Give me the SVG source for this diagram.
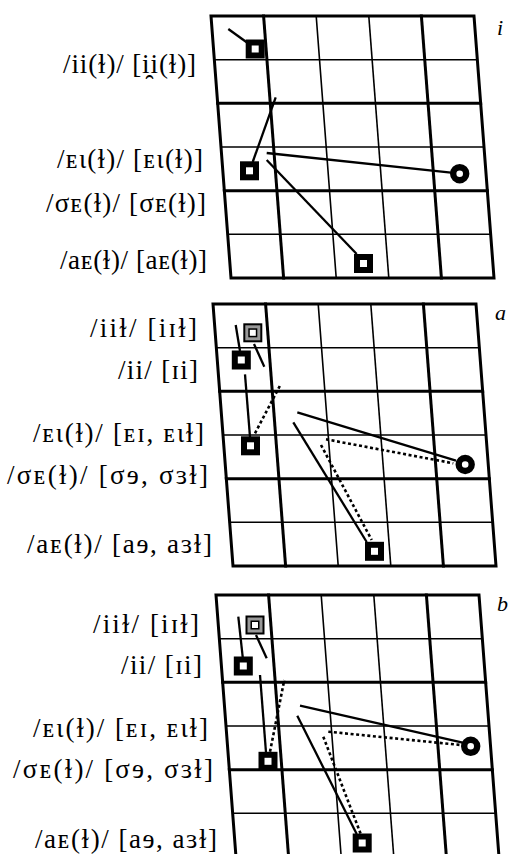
<svg xmlns="http://www.w3.org/2000/svg" xmlns:xlink="http://www.w3.org/1999/xlink" width="509" height="854" viewBox="0 0 509 854">
<style>
.g line{stroke:#000;stroke-linecap:square}
.bd{fill:none;stroke:#000;stroke-width:3}
.tk{stroke-width:3}
.tn{stroke-width:1.6}
.c{stroke:#000;stroke-width:2.3;fill:none}
.d{stroke:#000;stroke-width:2.6;fill:none;stroke-dasharray:3 2.6}
.lb{font-family:"Liberation Serif","DejaVu Serif",serif;font-size:27px;fill:#000;text-anchor:end}
.pl{font-family:"Liberation Serif","DejaVu Serif",serif;font-size:22px;font-style:italic;fill:#000}
</style>
<defs>
<g id="grid" class="g">
<line class="tn" x1="0" y1="43.7" x2="263" y2="43.7"/>
<line class="tk" x1="0" y1="87.3" x2="263" y2="87.3"/>
<line class="tn" x1="0" y1="131" x2="263" y2="131"/>
<line class="tk" x1="0" y1="174.7" x2="263" y2="174.7"/>
<line class="tn" x1="0" y1="218.3" x2="263" y2="218.3"/>
<line class="tk" x1="52.6" y1="0" x2="52.6" y2="262"/>
<line class="tn" x1="105.2" y1="0" x2="105.2" y2="262"/>
<line class="tn" x1="157.8" y1="0" x2="157.8" y2="262"/>
<line class="tk" x1="210.4" y1="0" x2="210.4" y2="262"/>
<rect class="bd" x="0" y="0" width="263" height="262"/>
</g>
<g id="sq"><rect x="-9.5" y="-9.5" width="19" height="19" fill="#000"/><rect x="-3.5" y="-3.5" width="7" height="7" fill="#fff"/></g>
<g id="gsq"><rect x="-9.5" y="-9.5" width="19" height="19" fill="#000"/><rect x="-7.5" y="-7.5" width="15" height="15" fill="#999"/><rect x="-4.5" y="-4.5" width="9" height="9" fill="#000"/><rect x="-3" y="-3" width="6" height="6" fill="#fff"/></g>
<g id="circ"><circle r="6.5" fill="#fff" stroke="#000" stroke-width="6.4"/></g>
</defs>

<g id="grid-i"><use xlink:href="#grid" transform="translate(211,16) skewX(4.3656)"/></g>
<g id="grid-a"><use xlink:href="#grid" transform="translate(213,304) skewX(4.3656)"/></g>
<g id="grid-b"><use xlink:href="#grid" transform="translate(216,595) skewX(4.3656)"/></g>

<g id="connectors">
<line class="c" x1="228.3" y1="29" x2="247" y2="42.5"/>
<line class="c" x1="275.7" y1="97.3" x2="252.7" y2="162"/>
<line class="c" x1="266.7" y1="153" x2="451" y2="172.7"/>
<line class="c" x1="266.7" y1="160" x2="356.7" y2="254"/>

<line class="c" x1="235.7" y1="325" x2="240" y2="351"/>
<line class="c" x1="254" y1="344" x2="264.3" y2="366.7"/>
<line class="c" x1="245" y1="374.3" x2="250" y2="437"/>
<line class="d" x1="255" y1="433.3" x2="281" y2="383.7"/>
<line class="c" x1="297.3" y1="412.3" x2="456" y2="460.7"/>
<line class="d" x1="326" y1="439.3" x2="453.3" y2="463.3"/>
<line class="c" x1="293.3" y1="422.3" x2="366.7" y2="542"/>
<line class="d" x1="321" y1="445" x2="371.7" y2="540"/>

<line class="c" x1="238.3" y1="616.7" x2="242.7" y2="657"/>
<line class="c" x1="256" y1="635" x2="266.7" y2="658.3"/>
<line class="c" x1="260" y1="675" x2="266" y2="752.5"/>
<line class="d" x1="270" y1="751.7" x2="284.3" y2="680"/>
<line class="c" x1="300" y1="705.7" x2="462.7" y2="742.7"/>
<line class="d" x1="328.3" y1="731.7" x2="460.7" y2="745"/>
<line class="c" x1="297.3" y1="715.7" x2="356.7" y2="834"/>
<line class="d" x1="323.3" y1="736.7" x2="360.7" y2="834"/>
</g>

<g id="n-i-1"><use xlink:href="#sq" x="255.2" y="49"/></g>
<g id="n-i-2"><use xlink:href="#sq" x="249.5" y="170.8"/></g>
<g id="n-i-3"><use xlink:href="#circ" x="459.7" y="173.7"/></g>
<g id="n-i-4"><use xlink:href="#sq" x="363.5" y="263.5"/></g>

<g id="n-a-1"><use xlink:href="#gsq" x="252.8" y="332.8"/></g>
<g id="n-a-2"><use xlink:href="#sq" x="241.3" y="360"/></g>
<g id="n-a-3"><use xlink:href="#sq" x="250.5" y="445.8"/></g>
<g id="n-a-4"><use xlink:href="#circ" x="465.2" y="464.5"/></g>
<g id="n-a-5"><use xlink:href="#sq" x="374.5" y="551.3"/></g>

<g id="n-b-1"><use xlink:href="#gsq" x="255" y="625"/></g>
<g id="n-b-2"><use xlink:href="#sq" x="243.3" y="666"/></g>
<g id="n-b-3"><use xlink:href="#sq" x="268" y="761.3"/></g>
<g id="n-b-4"><use xlink:href="#circ" x="470.7" y="746.3"/></g>
<g id="n-b-5"><use xlink:href="#sq" x="362.2" y="843"/></g>

<g id="labels">
<text class="pl" x="497" y="35">i</text>
<text class="pl" x="495" y="320">a</text>
<text class="pl" x="497" y="611">b</text>

<text class="lb" x="196" y="73" textLength="133">/ii(ɫ)/ [i̯i(ɫ)]</text>
<text class="lb" x="203" y="168" textLength="146">/ᴇɩ(ɫ)/ [ᴇɩ(ɫ)]</text>
<text class="lb" x="206" y="212" textLength="160">/σᴇ(ɫ)/ [σᴇ(ɫ)]</text>
<text class="lb" x="207" y="269" textLength="147">/aᴇ(ɫ)/ [aᴇ(ɫ)]</text>

<text class="lb" x="197" y="337" textLength="107">/iiɫ/ [iɪɫ]</text>
<text class="lb" x="198" y="379" textLength="80">/ii/ [ɪi]</text>
<text class="lb" x="204" y="442" textLength="171">/ᴇɩ(ɫ)/ [ᴇɪ, ᴇɩɫ]</text>
<text class="lb" x="208" y="484" textLength="201">/σᴇ(ɫ)/ [σɘ, σɜɫ]</text>
<text class="lb" x="212" y="553" textLength="185">/aᴇ(ɫ)/ [aɘ, aɜɫ]</text>

<text class="lb" x="199" y="633" textLength="106">/iiɫ/ [iɪɫ]</text>
<text class="lb" x="202" y="674" textLength="81">/ii/ [ɪi]</text>
<text class="lb" x="208" y="737" textLength="175">/ᴇɩ(ɫ)/ [ᴇɪ, ᴇɩɫ]</text>
<text class="lb" x="213" y="778" textLength="200">/σᴇ(ɫ)/ [σɘ, σɜɫ]</text>
<text class="lb" x="217" y="848" textLength="182">/aᴇ(ɫ)/ [aɘ, aɜɫ]</text>
</g>
</svg>
